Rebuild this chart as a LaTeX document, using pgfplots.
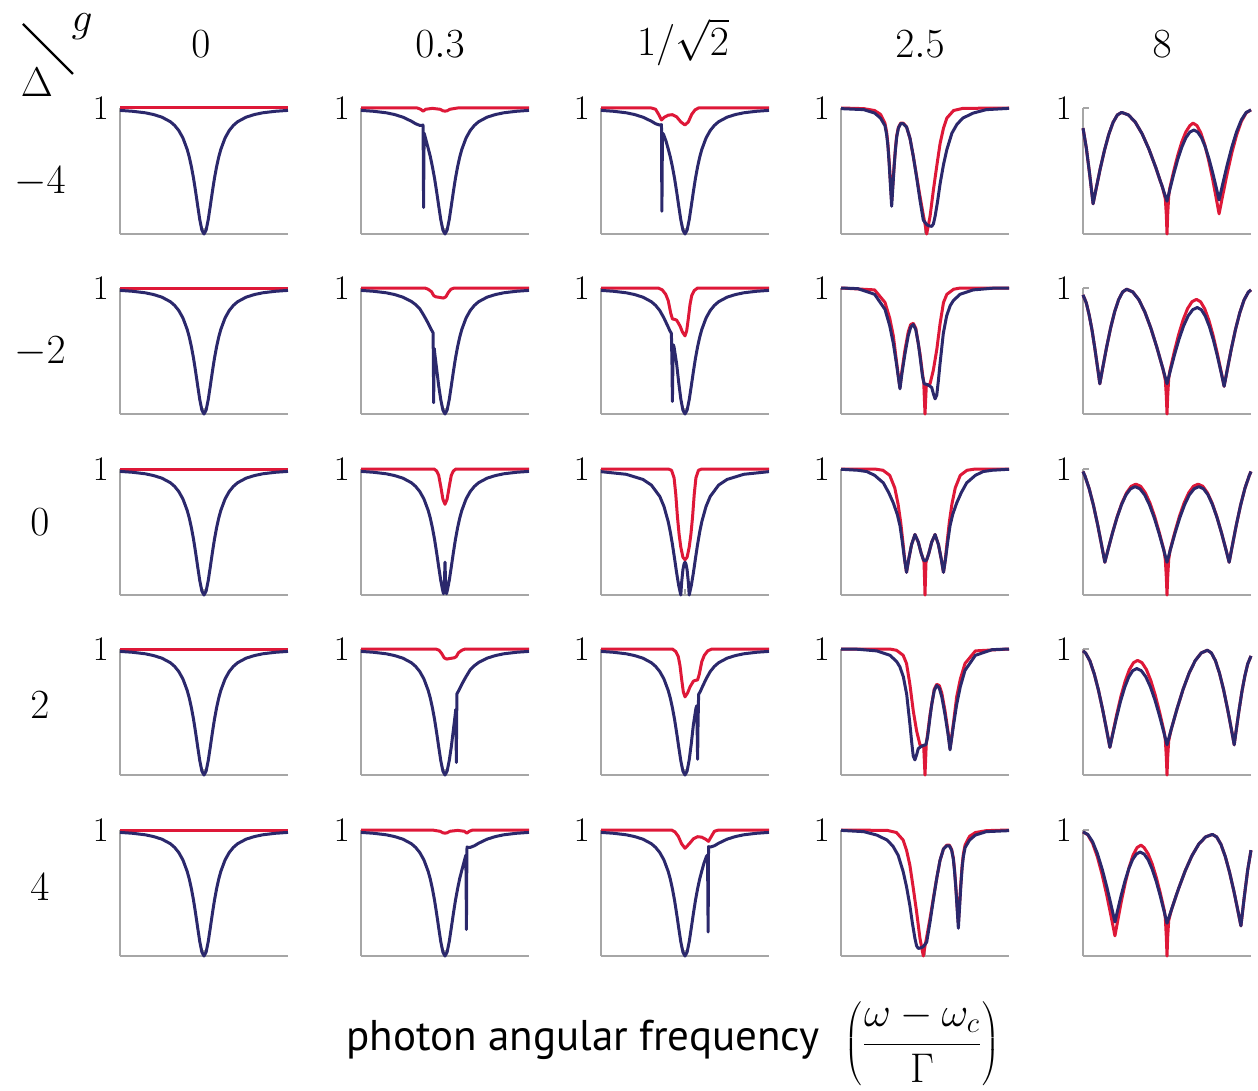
\documentclass[border=0pt]{standalone}
\usepackage{fontspec}
\usepackage{pgfplots}
\usepackage{pgfplotstable}
\pgfplotsset{compat=1.18}
\newfontfamily\labelfont{PT Sans}
\definecolor{navy}{RGB}{43,40,108}
\definecolor{crim}{RGB}{222,24,56}
\pgfplotsset{
 panel/.style={scale only axis, width=84pt, height=63pt, xmin=-10, xmax=10, ymin=0, ymax=1,
  axis lines*=left, axis line style={draw=gray!70, line width=0.6pt},
  xtick={0}, xticklabels={}, ytick={1}, yticklabels={$1$},
  tick style={draw=gray!70, line width=0.6pt}, major tick length=3pt, tick align=inside,
  yticklabel style={font=\fontsize{18}{18}\selectfont, inner sep=1pt, xshift=-4.5pt},
  clip=false, anchor=south west},
 bl/.style={navy, line width=1.5pt, line join=round},
 rd/.style={crim, line width=1.5pt, line join=round},
}
\pgfplotstableread{
x y
-10 0.981
-8.5 0.974
-7 0.962
-6 0.948
-5 0.927
-4 0.891
-3.5 0.862
-3 0.821
-2.5 0.761
-2 0.671
-1.75 0.610
-1.5 0.534
-1.25 0.444
-1 0.338
-0.75 0.223
-0.5 0.113
-0.25 0.031
0 0
0.25 0.031
0.5 0.113
0.75 0.223
1 0.338
1.25 0.444
1.5 0.534
1.75 0.610
2 0.671
2.5 0.761
3 0.821
3.5 0.862
4 0.891
5 0.927
6 0.948
7 0.962
8.5 0.974
10 0.981
}\Bbase
\begin{document}
\begin{tikzpicture}
\path (0,0) rectangle (629pt,-545.5pt);
% headers
\begin{scope}[every node/.style={inner sep=0pt, font=\fontsize{21}{25}\selectfont}]
\node at (100.5pt,-22pt) {$0$};
\node at (220pt,-22pt) {$0.3$};
\node at (341.5pt,-21pt) {$1/\sqrt{2}$};
\node at (460pt,-22pt) {$2.5$};
\node at (581pt,-22pt) {$8$};
% row labels
\node at (20pt,-91pt) {$-4$};
\node at (20pt,-176pt) {$-2$};
\node at (20pt,-261pt) {$0$};
\node at (20pt,-352.5pt) {$2$};
\node at (20pt,-443.5pt) {$4$};
\end{scope}
% corner
\draw[line width=1.1pt] (11.5pt,-12pt) -- (36.5pt,-37pt);
\node[inner sep=0pt, font=\fontsize{22}{25}\selectfont] at (18.5pt,-41pt) {$\Delta$};
\node[inner sep=0pt, font=\fontsize{22}{25}\selectfont] at (41pt,-13.5pt) {$g$};
% x label
\node[anchor=west, inner sep=0pt, font=\labelfont\fontsize{21.5}{25}\selectfont] at (173pt,-520pt) {photon angular frequency};
\node[inner sep=0pt, font=\fontsize{20}{24}\selectfont] at (461pt,-522pt) {$\displaystyle\left(\frac{\omega-\omega_c}{\Gamma}\right)$};

% ================= column 1 (g=0) =================
\begin{axis}[panel, at={(60pt,-117pt)}]
\addplot[rd] coordinates {(-10,1)(10,1)};
\addplot[bl] table {\Bbase};
\end{axis}
\begin{axis}[panel, at={(60pt,-207pt)}]
\addplot[rd] coordinates {(-10,1)(10,1)};
\addplot[bl] table {\Bbase};
\end{axis}
\begin{axis}[panel, at={(60pt,-297.5pt)}]
\addplot[rd] coordinates {(-10,1)(10,1)};
\addplot[bl] table {\Bbase};
\end{axis}
\begin{axis}[panel, at={(60pt,-387.5pt)}]
\addplot[rd] coordinates {(-10,1)(10,1)};
\addplot[bl] table {\Bbase};
\end{axis}
\begin{axis}[panel, at={(60pt,-478pt)}]
\addplot[rd] coordinates {(-10,1)(10,1)};
\addplot[bl] table {\Bbase};
\end{axis}

% ================= column 2 (g=0.3) =================
\begin{axis}[panel, at={(180.5pt,-117pt)}]
\addplot[rd] coordinates {(-10,1)(-3.3,1)(-2.9,0.99)(-2.6,0.975)(-2.3,0.99)(-1.5,0.997)(-0.6,0.99)(-0.25,0.978)(0,0.975)(0.25,0.978)(0.6,0.99)(1.5,1)(10,1)};
\addplot[bl] coordinates {(-10,0.981)(-8.5,0.974)(-7,0.962)(-6,0.948)(-5,0.927)(-4,0.895)(-3.5,0.875)(-3,0.862)(-2.75,0.862)(-2.62,0.865)(-2.58,0.60)(-2.55,0.21)(-2.52,0.55)(-2.48,0.80)(-2.4,0.78)(-2.2,0.73)(-2,0.68)(-1.75,0.615)(-1.5,0.534)(-1.25,0.444)(-1,0.338)(-0.75,0.223)(-0.5,0.113)(-0.25,0.031)(0,0)(0.25,0.031)(0.5,0.113)(0.75,0.223)(1,0.338)(1.25,0.444)(1.5,0.534)(1.75,0.610)(2,0.671)(2.5,0.761)(3,0.821)(3.5,0.862)(4,0.891)(5,0.927)(6,0.948)(7,0.962)(8.5,0.974)(10,0.981)};
\end{axis}
\begin{axis}[panel, at={(180.5pt,-207pt)}]
\addplot[rd] coordinates {(-10,1)(-2.4,1)(-2,0.99)(-1.6,0.97)(-1.35,0.94)(-1.1,0.93)(-0.6,0.925)(-0.2,0.92)(0.1,0.93)(0.4,0.965)(0.7,0.99)(1.1,1)(10,1)};
\addplot[bl] coordinates {(-10,0.981)(-8.5,0.974)(-7,0.962)(-6,0.948)(-5,0.927)(-4,0.893)(-3.5,0.868)(-3,0.835)(-2.5,0.78)(-2,0.72)(-1.75,0.685)(-1.55,0.66)(-1.42,0.645)(-1.38,0.40)(-1.35,0.09)(-1.32,0.35)(-1.28,0.52)(-1.2,0.47)(-1,0.36)(-0.75,0.223)(-0.5,0.113)(-0.25,0.031)(0,0)(0.25,0.031)(0.5,0.113)(0.75,0.223)(1,0.338)(1.25,0.444)(1.5,0.534)(1.75,0.610)(2,0.671)(2.5,0.761)(3,0.821)(3.5,0.862)(4,0.891)(5,0.927)(6,0.948)(7,0.962)(8.5,0.974)(10,0.981)};
\end{axis}
\begin{axis}[panel, at={(180.5pt,-297.5pt)}]
\addplot[rd] coordinates {(-10,1)(-1.3,1)(-1,0.985)(-0.75,0.95)(-0.5,0.86)(-0.25,0.76)(0,0.72)(0.25,0.76)(0.5,0.86)(0.75,0.95)(1,0.985)(1.3,1)(10,1)};
\addplot[bl] coordinates {(-10,0.981)(-8.5,0.974)(-7,0.962)(-6,0.948)(-5,0.927)(-4,0.891)(-3.5,0.862)(-3,0.821)(-2.5,0.761)(-2,0.671)(-1.75,0.610)(-1.5,0.534)(-1.25,0.444)(-1,0.338)(-0.75,0.223)(-0.5,0.113)(-0.3,0.045)(-0.18,0.01)(-0.1,0.04)(-0.05,0.14)(0,0.26)(0.05,0.14)(0.1,0.04)(0.18,0.01)(0.3,0.045)(0.5,0.113)(0.75,0.223)(1,0.338)(1.25,0.444)(1.5,0.534)(1.75,0.610)(2,0.671)(2.5,0.761)(3,0.821)(3.5,0.862)(4,0.891)(5,0.927)(6,0.948)(7,0.962)(8.5,0.974)(10,0.981)};
\end{axis}
\begin{axis}[panel, at={(180.5pt,-387.5pt)}]
\addplot[rd] coordinates {(-10,1)(-1.1,1)(-0.7,0.99)(-0.4,0.965)(-0.1,0.93)(0.2,0.92)(0.6,0.925)(1.1,0.93)(1.35,0.94)(1.6,0.97)(2,0.99)(2.4,1)(10,1)};
\addplot[bl] coordinates {(-10,0.981)(-8.5,0.974)(-7,0.962)(-6,0.948)(-5,0.927)(-4,0.891)(-3.5,0.862)(-3,0.821)(-2.5,0.761)(-2,0.671)(-1.75,0.610)(-1.5,0.534)(-1.25,0.444)(-1,0.338)(-0.75,0.223)(-0.5,0.113)(-0.25,0.031)(0,0)(0.25,0.031)(0.5,0.113)(0.75,0.223)(1,0.36)(1.2,0.47)(1.28,0.52)(1.32,0.35)(1.35,0.10)(1.38,0.40)(1.42,0.645)(1.55,0.66)(1.75,0.685)(2,0.72)(2.5,0.78)(3,0.835)(3.5,0.868)(4,0.893)(5,0.927)(6,0.948)(7,0.962)(8.5,0.974)(10,0.981)};
\end{axis}
\begin{axis}[panel, at={(180.5pt,-478pt)}]
\addplot[rd] coordinates {(-10,1)(-1.5,1)(-0.6,0.99)(-0.25,0.978)(0,0.975)(0.25,0.978)(0.6,0.99)(1.5,0.997)(2.3,0.99)(2.6,0.975)(2.9,0.99)(3.3,1)(10,1)};
\addplot[bl] coordinates {(-10,0.981)(-8.5,0.974)(-7,0.962)(-6,0.948)(-5,0.927)(-4,0.891)(-3.5,0.862)(-3,0.821)(-2.5,0.761)(-2,0.671)(-1.75,0.610)(-1.5,0.534)(-1.25,0.444)(-1,0.338)(-0.75,0.223)(-0.5,0.113)(-0.25,0.031)(0,0)(0.25,0.031)(0.5,0.113)(0.75,0.223)(1,0.338)(1.25,0.444)(1.5,0.534)(1.75,0.615)(2,0.68)(2.2,0.73)(2.4,0.78)(2.48,0.80)(2.52,0.55)(2.55,0.21)(2.58,0.60)(2.62,0.865)(2.75,0.862)(3,0.862)(3.5,0.875)(4,0.895)(5,0.927)(6,0.948)(7,0.962)(8.5,0.974)(10,0.981)};
\end{axis}

% ================= column 3 (g=1/sqrt2) =================
\begin{axis}[panel, at={(300.5pt,-117pt)}]
\addplot[rd] coordinates {(-10,1)(-4,1)(-3.5,0.99)(-3.1,0.945)(-2.8,0.905)(-2.5,0.925)(-2,0.943)(-1.5,0.947)(-1,0.93)(-0.5,0.89)(0,0.865)(0.4,0.89)(0.8,0.95)(1.2,0.985)(1.6,1)(10,1)};
\addplot[bl] coordinates {(-10,0.981)(-8.5,0.974)(-7,0.962)(-6,0.948)(-5,0.927)(-4,0.895)(-3.5,0.875)(-3.1,0.866)(-2.9,0.866)(-2.8,0.868)(-2.78,0.55)(-2.75,0.18)(-2.72,0.50)(-2.68,0.80)(-2.55,0.79)(-2.25,0.735)(-2,0.675)(-1.75,0.612)(-1.5,0.534)(-1.25,0.444)(-1,0.338)(-0.75,0.223)(-0.5,0.113)(-0.25,0.031)(0,0)(0.25,0.031)(0.5,0.113)(0.75,0.223)(1,0.338)(1.25,0.444)(1.5,0.534)(1.75,0.610)(2,0.671)(2.5,0.761)(3,0.821)(3.5,0.862)(4,0.891)(5,0.927)(6,0.948)(7,0.962)(8.5,0.974)(10,0.981)};
\end{axis}
\begin{axis}[panel, at={(300.5pt,-207pt)}]
\addplot[rd] coordinates {(-10,1)(-3.2,1)(-2.7,0.985)(-2.3,0.95)(-2,0.90)(-1.7,0.80)(-1.5,0.755)(-1.2,0.75)(-1,0.745)(-0.6,0.70)(-0.3,0.65)(0,0.62)(0.2,0.66)(0.4,0.76)(0.6,0.87)(0.8,0.94)(1.1,0.98)(1.5,1)(10,1)};
\addplot[bl] coordinates {(-10,0.981)(-8.5,0.974)(-7,0.962)(-6,0.948)(-5,0.927)(-4,0.891)(-3.5,0.862)(-3,0.821)(-2.5,0.761)(-2,0.69)(-1.8,0.66)(-1.62,0.64)(-1.55,0.40)(-1.5,0.10)(-1.45,0.35)(-1.4,0.55)(-1.3,0.53)(-1,0.40)(-0.75,0.25)(-0.5,0.12)(-0.25,0.031)(0,0)(0.25,0.031)(0.5,0.113)(0.75,0.223)(1,0.338)(1.25,0.444)(1.5,0.534)(1.75,0.610)(2,0.671)(2.5,0.761)(3,0.821)(3.5,0.862)(4,0.891)(5,0.927)(6,0.948)(7,0.962)(8.5,0.974)(10,0.981)};
\end{axis}
\begin{axis}[panel, at={(300.5pt,-297.5pt)}]
\addplot[rd] coordinates {(-10,1)(-2,1)(-1.6,0.99)(-1.3,0.93)(-1.1,0.80)(-0.9,0.62)(-0.7,0.48)(-0.5,0.38)(-0.25,0.30)(0,0.28)(0.25,0.30)(0.5,0.38)(0.7,0.48)(0.9,0.62)(1.1,0.80)(1.3,0.93)(1.6,0.99)(2,1)(10,1)};
\addplot[bl] coordinates {(-10,0.979)(-7,0.958)(-5,0.917)(-4,0.872)(-3,0.782)(-2.5,0.702)(-2,0.582)(-1.75,0.50)(-1.5,0.403)(-1.25,0.292)(-1,0.177)(-0.75,0.075)(-0.5,0)(-0.4,0.10)(-0.25,0.20)(-0.1,0.25)(0,0.26)(0.1,0.25)(0.25,0.20)(0.4,0.10)(0.5,0)(0.75,0.075)(1,0.177)(1.25,0.292)(1.5,0.403)(1.75,0.50)(2,0.582)(2.5,0.702)(3,0.782)(4,0.872)(5,0.917)(7,0.958)(10,0.979)};
\end{axis}
\begin{axis}[panel, at={(300.5pt,-387.5pt)}]
\addplot[rd] coordinates {(-10,1)(-1.5,1)(-1.1,0.98)(-0.8,0.94)(-0.6,0.87)(-0.4,0.76)(-0.2,0.66)(0,0.62)(0.3,0.65)(0.6,0.70)(1,0.745)(1.2,0.75)(1.5,0.755)(1.7,0.80)(2,0.90)(2.3,0.95)(2.7,0.985)(3.2,1)(10,1)};
\addplot[bl] coordinates {(-10,0.981)(-8.5,0.974)(-7,0.962)(-6,0.948)(-5,0.927)(-4,0.891)(-3.5,0.862)(-3,0.821)(-2.5,0.761)(-2,0.671)(-1.75,0.610)(-1.5,0.534)(-1.25,0.444)(-1,0.338)(-0.75,0.223)(-0.5,0.113)(-0.25,0.031)(0,0)(0.25,0.031)(0.5,0.12)(0.75,0.25)(1,0.40)(1.3,0.53)(1.4,0.55)(1.45,0.35)(1.5,0.125)(1.55,0.40)(1.62,0.64)(1.8,0.66)(2,0.69)(2.5,0.761)(3,0.821)(3.5,0.862)(4,0.891)(5,0.927)(6,0.948)(7,0.962)(8.5,0.974)(10,0.981)};
\end{axis}
\begin{axis}[panel, at={(300.5pt,-478pt)}]
\addplot[rd] coordinates {(-10,1)(-1.6,1)(-1.2,0.985)(-0.8,0.95)(-0.4,0.89)(0,0.855)(0.5,0.89)(1,0.93)(1.5,0.947)(2,0.943)(2.5,0.925)(2.8,0.91)(3.1,0.945)(3.5,0.99)(4,1)(10,1)};
\addplot[bl] coordinates {(-10,0.981)(-8.5,0.974)(-7,0.962)(-6,0.948)(-5,0.927)(-4,0.891)(-3.5,0.862)(-3,0.821)(-2.5,0.761)(-2,0.671)(-1.75,0.610)(-1.5,0.534)(-1.25,0.444)(-1,0.338)(-0.75,0.223)(-0.5,0.113)(-0.25,0.031)(0,0)(0.25,0.031)(0.5,0.113)(0.75,0.223)(1,0.338)(1.25,0.444)(1.5,0.534)(1.75,0.612)(2,0.675)(2.25,0.735)(2.55,0.79)(2.68,0.80)(2.72,0.50)(2.75,0.19)(2.78,0.55)(2.8,0.868)(2.9,0.866)(3.1,0.866)(3.5,0.875)(4,0.895)(5,0.927)(6,0.948)(7,0.962)(8.5,0.974)(10,0.981)};
\end{axis}

% ================= column 4 (g=2.5) =================
\begin{axis}[panel, at={(420.5pt,-117pt)}]
\addplot[rd] coordinates {(-10,1)(-7.3,0.995)(-6,0.98)(-5.3,0.95)(-4.77,0.88)(-4.57,0.81)(-4.42,0.72)(-4.27,0.58)(-4.12,0.42)(-3.97,0.26)(-3.82,0.40)(-3.67,0.55)(-3.52,0.68)(-3.37,0.78)(-3.17,0.845)(-2.9,0.88)(-2.6,0.88)(-2.2,0.85)(-1.79,0.76)(-1.39,0.615)(-1,0.46)(-0.6,0.30)(-0.2,0.15)(0,0.08)(0.2,0)(0.6,0.14)(1,0.35)(1.4,0.54)(1.8,0.72)(2.2,0.84)(2.6,0.92)(3.4,0.98)(4.5,0.997)(10,1)};
\addplot[bl] coordinates {(-10,0.995)(-7.3,0.987)(-6,0.96)(-5.3,0.92)(-4.77,0.86)(-4.57,0.79)(-4.42,0.70)(-4.27,0.56)(-4.12,0.39)(-3.97,0.22)(-3.82,0.38)(-3.67,0.54)(-3.52,0.67)(-3.37,0.77)(-3.17,0.84)(-2.9,0.875)(-2.6,0.875)(-2.2,0.85)(-1.79,0.76)(-1.39,0.615)(-1,0.45)(-0.6,0.27)(-0.2,0.11)(0.2,0.075)(0.5,0.065)(0.8,0.06)(1,0.08)(1.2,0.14)(1.5,0.26)(1.8,0.40)(2.2,0.55)(2.6,0.67)(3.2,0.80)(3.8,0.87)(4.5,0.92)(5.75,0.96)(7.3,0.987)(10,0.997)};
\end{axis}
\begin{axis}[panel, at={(420.5pt,-207pt)}]
\addplot[rd] coordinates {(-10,1)(-6,0.985)(-4.76,0.885)(-4.2,0.76)(-3.77,0.62)(-3.4,0.42)(-3.15,0.29)(-2.98,0.21)(-2.75,0.34)(-2.38,0.51)(-2,0.65)(-1.7,0.71)(-1.39,0.72)(-1.1,0.68)(-0.8,0.56)(-0.6,0.48)(-0.3,0.32)(-0.15,0.25)(0,0)(0.15,0.22)(0.6,0.24)(1,0.35)(1.4,0.51)(1.8,0.72)(2.2,0.885)(2.6,0.95)(3.4,0.99)(4.2,1)(10,1)};
\addplot[bl] coordinates {(-10,1)(-8,0.995)(-6,0.95)(-4.76,0.83)(-4.2,0.70)(-3.77,0.56)(-3.4,0.40)(-3.15,0.28)(-2.98,0.20)(-2.75,0.32)(-2.38,0.48)(-2,0.62)(-1.7,0.69)(-1.39,0.71)(-1.1,0.67)(-0.8,0.56)(-0.6,0.46)(-0.3,0.30)(-0.1,0.24)(0.2,0.235)(0.5,0.225)(0.8,0.21)(1,0.16)(1.2,0.12)(1.4,0.15)(1.6,0.27)(1.79,0.40)(2.18,0.64)(2.58,0.78)(3,0.86)(3.37,0.90)(4.17,0.95)(5.75,0.985)(8,0.998)(10,1)};
\end{axis}
\begin{axis}[panel, at={(420.5pt,-297.5pt)}]
\addplot[rd] coordinates {(-10,1)(-6,1)(-5,0.99)(-4.2,0.95)(-3.6,0.85)(-3.2,0.72)(-2.9,0.58)(-2.6,0.40)(-2.4,0.27)(-2.2,0.18)(-1.95,0.28)(-1.6,0.40)(-1.2,0.48)(-0.8,0.42)(-0.45,0.33)(-0.2,0.28)(-0.12,0.26)(-0.05,0.12)(0,0)(0.05,0.12)(0.12,0.26)(0.2,0.28)(0.45,0.33)(0.8,0.42)(1.2,0.48)(1.6,0.40)(1.95,0.28)(2.2,0.18)(2.4,0.27)(2.6,0.40)(2.9,0.58)(3.2,0.72)(3.6,0.85)(4.2,0.95)(5,0.99)(6,1)(10,1)};
\addplot[bl] coordinates {(-10,0.998)(-8,0.99)(-6.94,0.98)(-6,0.95)(-4.96,0.89)(-4.3,0.81)(-3.77,0.73)(-3.3,0.64)(-2.98,0.55)(-2.7,0.42)(-2.45,0.29)(-2.2,0.18)(-1.95,0.28)(-1.6,0.40)(-1.2,0.48)(-0.8,0.42)(-0.45,0.33)(-0.2,0.28)(0,0.27)(0.2,0.28)(0.45,0.33)(0.8,0.42)(1.2,0.48)(1.6,0.40)(1.95,0.28)(2.2,0.18)(2.45,0.29)(2.7,0.42)(2.98,0.55)(3.3,0.64)(3.77,0.73)(4.3,0.81)(4.96,0.89)(6,0.95)(6.94,0.98)(8,0.99)(10,0.998)};
\end{axis}
\begin{axis}[panel, at={(420.5pt,-387.5pt)}]
\addplot[rd] coordinates {(-10,1)(-4.2,1)(-3.4,0.99)(-2.6,0.95)(-2.2,0.885)(-1.8,0.72)(-1.4,0.51)(-1,0.35)(-0.6,0.24)(-0.15,0.22)(0,0)(0.15,0.25)(0.3,0.32)(0.6,0.48)(0.8,0.56)(1.1,0.68)(1.39,0.72)(1.7,0.71)(2,0.65)(2.38,0.51)(2.75,0.34)(2.98,0.21)(3.15,0.29)(3.4,0.42)(3.77,0.62)(4.2,0.76)(4.76,0.885)(6,0.985)(10,1)};
\addplot[bl] coordinates {(-10,1)(-8,0.998)(-5.75,0.985)(-4.17,0.95)(-3.37,0.90)(-3,0.86)(-2.58,0.78)(-2.18,0.64)(-1.79,0.40)(-1.6,0.27)(-1.4,0.15)(-1.2,0.12)(-1,0.16)(-0.8,0.21)(-0.5,0.225)(-0.2,0.235)(0.1,0.24)(0.3,0.30)(0.6,0.46)(0.8,0.56)(1.1,0.67)(1.39,0.71)(1.7,0.69)(2,0.62)(2.38,0.48)(2.75,0.32)(2.98,0.20)(3.15,0.28)(3.4,0.40)(3.77,0.56)(4.2,0.70)(4.76,0.83)(6,0.95)(8,0.995)(10,1)};
\end{axis}
\begin{axis}[panel, at={(420.5pt,-478pt)}]
\addplot[rd] coordinates {(-10,1)(-4.5,0.997)(-3.4,0.98)(-2.6,0.92)(-2.2,0.84)(-1.8,0.72)(-1.4,0.54)(-1,0.35)(-0.6,0.14)(-0.2,0)(0,0.08)(0.2,0.15)(0.6,0.30)(1,0.46)(1.39,0.615)(1.79,0.76)(2.2,0.85)(2.6,0.88)(2.9,0.88)(3.17,0.845)(3.37,0.78)(3.52,0.68)(3.67,0.55)(3.82,0.40)(3.97,0.26)(4.12,0.42)(4.27,0.58)(4.42,0.72)(4.57,0.81)(4.77,0.88)(5.3,0.95)(6,0.98)(7.3,0.995)(10,1)};
\addplot[bl] coordinates {(-10,0.997)(-7.3,0.987)(-5.75,0.96)(-4.5,0.92)(-3.8,0.87)(-3.2,0.80)(-2.6,0.67)(-2.2,0.55)(-1.8,0.40)(-1.5,0.26)(-1.2,0.14)(-1,0.08)(-0.8,0.06)(-0.5,0.065)(-0.2,0.075)(0.2,0.11)(0.6,0.27)(1,0.45)(1.39,0.615)(1.79,0.76)(2.2,0.85)(2.6,0.875)(2.9,0.875)(3.17,0.84)(3.37,0.77)(3.52,0.67)(3.67,0.54)(3.82,0.38)(3.97,0.22)(4.12,0.39)(4.27,0.56)(4.42,0.70)(4.57,0.79)(4.77,0.86)(5.3,0.92)(6,0.96)(7.3,0.987)(10,0.995)};
\end{axis}

% ================= column 5 (g=8) =================
\begin{axis}[panel, at={(541.5pt,-117pt)}]
\addplot[rd] coordinates {(-10,0.84)(-9.6,0.68)(-9.2,0.47)(-8.8,0.24)(-8.46,0.353)(-7.95,0.518)(-7.44,0.666)(-6.93,0.791)(-6.42,0.886)(-5.91,0.945)(-5.4,0.965)(-4.59,0.945)(-3.78,0.888)(-2.97,0.796)(-2.16,0.675)(-1.35,0.530)(-0.54,0.370)(-0.2,0.28)(-0.08,0.15)(0,0)(0.08,0.15)(0.2,0.30)(0.32,0.36)(0.8,0.50)(1.28,0.625)(1.76,0.73)(2.24,0.81)(2.72,0.86)(3.1,0.88)(3.57,0.86)(4.03,0.802)(4.5,0.707)(4.96,0.583)(5.43,0.436)(5.89,0.272)(6.2,0.16)(6.58,0.289)(7.15,0.476)(7.72,0.645)(8.29,0.787)(8.86,0.895)(9.43,0.962)(10,0.985)};
\addplot[bl] coordinates {(-10,0.84)(-9.6,0.68)(-9.2,0.47)(-8.8,0.24)(-8.46,0.353)(-7.95,0.518)(-7.44,0.666)(-6.93,0.791)(-6.42,0.886)(-5.91,0.945)(-5.4,0.965)(-4.59,0.945)(-3.78,0.888)(-2.97,0.796)(-2.16,0.675)(-1.35,0.530)(-0.54,0.370)(0,0.26)(0.32,0.348)(0.8,0.476)(1.28,0.592)(1.76,0.689)(2.24,0.763)(2.72,0.809)(3.2,0.825)(3.65,0.809)(4.1,0.765)(4.55,0.692)(5,0.596)(5.45,0.483)(5.9,0.357)(6.2,0.27)(6.58,0.382)(7.15,0.544)(7.72,0.690)(8.29,0.813)(8.86,0.907)(9.43,0.965)(10,0.985)};
\end{axis}
\begin{axis}[panel, at={(541.5pt,-207pt)}]
\addplot[rd] coordinates {(-10,0.945)(-9.61,0.882)(-9.27,0.787)(-8.92,0.663)(-8.58,0.516)(-8.23,0.352)(-8,0.24)(-7.68,0.357)(-7.2,0.527)(-6.72,0.681)(-6.24,0.81)(-5.76,0.908)(-5.28,0.969)(-4.8,0.99)(-4.08,0.969)(-3.36,0.908)(-2.64,0.81)(-1.92,0.681)(-1.2,0.527)(-0.48,0.357)(-0.2,0.27)(-0.08,0.14)(0,0)(0.08,0.14)(0.2,0.28)(0.35,0.345)(0.875,0.497)(1.4,0.634)(1.925,0.749)(2.45,0.837)(2.975,0.891)(3.5,0.91)(3.995,0.891)(4.49,0.835)(4.985,0.744)(5.48,0.626)(5.975,0.484)(6.47,0.328)(6.8,0.22)(7.14,0.34)(7.65,0.515)(8.16,0.673)(8.67,0.805)(9.18,0.906)(9.69,0.968)(10,0.985)};
\addplot[bl] coordinates {(-10,0.945)(-9.61,0.882)(-9.27,0.787)(-8.92,0.663)(-8.58,0.516)(-8.23,0.352)(-8,0.24)(-7.68,0.357)(-7.2,0.527)(-6.72,0.681)(-6.24,0.81)(-5.76,0.908)(-5.28,0.969)(-4.8,0.99)(-4.08,0.969)(-3.36,0.908)(-2.64,0.81)(-1.92,0.681)(-1.2,0.527)(-0.48,0.357)(0,0.24)(0.36,0.334)(0.9,0.472)(1.44,0.596)(1.98,0.700)(2.52,0.779)(3.06,0.828)(3.6,0.845)(4.08,0.828)(4.56,0.777)(5.04,0.695)(5.52,0.588)(6,0.459)(6.48,0.318)(6.8,0.22)(7.14,0.34)(7.65,0.515)(8.16,0.673)(8.67,0.805)(9.18,0.906)(9.69,0.968)(10,0.985)};
\end{axis}
\begin{axis}[panel, at={(541.5pt,-297.5pt)}]
\addplot[rd] coordinates {(-10,0.98)(-9.78,0.946)(-9.27,0.845)(-8.76,0.713)(-8.25,0.555)(-7.74,0.38)(-7.4,0.26)(-7.03,0.357)(-6.475,0.497)(-5.92,0.625)(-5.365,0.731)(-4.81,0.812)(-4.255,0.863)(-3.7,0.88)(-3.145,0.863)(-2.59,0.812)(-2.035,0.731)(-1.48,0.625)(-0.925,0.497)(-0.37,0.357)(-0.2,0.28)(-0.08,0.14)(0,0)(0.08,0.14)(0.2,0.28)(0.37,0.357)(0.925,0.497)(1.48,0.625)(2.035,0.731)(2.59,0.812)(3.145,0.863)(3.7,0.88)(4.255,0.863)(4.81,0.812)(5.365,0.731)(5.92,0.625)(6.475,0.497)(7.03,0.357)(7.4,0.26)(7.74,0.38)(8.25,0.555)(8.76,0.713)(9.27,0.845)(9.78,0.946)(10,0.98)};
\addplot[bl] coordinates {(-10,0.98)(-9.78,0.946)(-9.27,0.845)(-8.76,0.713)(-8.25,0.555)(-7.74,0.38)(-7.4,0.26)(-7.04,0.354)(-6.5,0.490)(-5.96,0.613)(-5.42,0.716)(-4.88,0.795)(-4.34,0.843)(-3.8,0.86)(-3.23,0.843)(-2.66,0.795)(-2.09,0.716)(-1.52,0.613)(-0.95,0.490)(-0.38,0.354)(0,0.26)(0.38,0.354)(0.95,0.490)(1.52,0.613)(2.09,0.716)(2.66,0.795)(3.23,0.843)(3.8,0.86)(4.34,0.843)(4.88,0.795)(5.42,0.716)(5.96,0.613)(6.5,0.490)(7.04,0.354)(7.4,0.26)(7.74,0.38)(8.25,0.555)(8.76,0.713)(9.27,0.845)(9.78,0.946)(10,0.98)};
\end{axis}
\begin{axis}[panel, at={(541.5pt,-387.5pt)}]
\addplot[rd] coordinates {(-10,0.985)(-9.69,0.968)(-9.18,0.906)(-8.67,0.805)(-8.16,0.673)(-7.65,0.515)(-7.14,0.34)(-6.8,0.22)(-6.47,0.328)(-5.975,0.484)(-5.48,0.626)(-4.985,0.744)(-4.49,0.835)(-3.995,0.891)(-3.5,0.91)(-2.975,0.891)(-2.45,0.837)(-1.925,0.749)(-1.4,0.634)(-0.875,0.497)(-0.35,0.345)(-0.2,0.28)(-0.08,0.14)(0,0)(0.08,0.14)(0.2,0.27)(0.48,0.357)(1.2,0.527)(1.92,0.681)(2.64,0.81)(3.36,0.908)(4.08,0.969)(4.8,0.99)(5.28,0.969)(5.76,0.908)(6.24,0.81)(6.72,0.681)(7.2,0.527)(7.68,0.357)(8,0.24)(8.23,0.352)(8.58,0.516)(8.92,0.663)(9.27,0.787)(9.61,0.882)(10,0.945)};
\addplot[bl] coordinates {(-10,0.985)(-9.69,0.968)(-9.18,0.906)(-8.67,0.805)(-8.16,0.673)(-7.65,0.515)(-7.14,0.34)(-6.8,0.22)(-6.48,0.318)(-6,0.459)(-5.52,0.588)(-5.04,0.695)(-4.56,0.777)(-4.08,0.828)(-3.6,0.845)(-3.06,0.828)(-2.52,0.779)(-1.98,0.700)(-1.44,0.596)(-0.9,0.472)(-0.36,0.334)(0,0.24)(0.48,0.357)(1.2,0.527)(1.92,0.681)(2.64,0.81)(3.36,0.908)(4.08,0.969)(4.8,0.99)(5.28,0.969)(5.76,0.908)(6.24,0.81)(6.72,0.681)(7.2,0.527)(7.68,0.357)(8,0.24)(8.23,0.352)(8.58,0.516)(8.92,0.663)(9.27,0.787)(9.61,0.882)(10,0.945)};
\end{axis}
\begin{axis}[panel, at={(541.5pt,-478pt)}]
\addplot[rd] coordinates {(-10,0.985)(-9.43,0.962)(-8.86,0.895)(-8.29,0.787)(-7.72,0.645)(-7.15,0.476)(-6.58,0.289)(-6.2,0.16)(-5.89,0.272)(-5.43,0.436)(-4.96,0.583)(-4.5,0.707)(-4.03,0.802)(-3.57,0.86)(-3.1,0.88)(-2.72,0.86)(-2.24,0.81)(-1.76,0.73)(-1.28,0.625)(-0.8,0.50)(-0.32,0.36)(-0.2,0.30)(-0.08,0.15)(0,0)(0.08,0.15)(0.2,0.28)(0.54,0.37)(1.35,0.53)(2.16,0.675)(2.97,0.796)(3.78,0.888)(4.59,0.945)(5.4,0.965)(5.91,0.945)(6.42,0.886)(6.93,0.791)(7.44,0.666)(7.95,0.518)(8.46,0.353)(8.8,0.24)(9.2,0.47)(9.6,0.68)(10,0.84)};
\addplot[bl] coordinates {(-10,0.985)(-9.43,0.965)(-8.86,0.907)(-8.29,0.813)(-7.72,0.690)(-7.15,0.544)(-6.58,0.382)(-6.2,0.27)(-5.9,0.357)(-5.45,0.483)(-5,0.596)(-4.55,0.692)(-4.1,0.765)(-3.65,0.809)(-3.2,0.825)(-2.72,0.809)(-2.24,0.763)(-1.76,0.689)(-1.28,0.592)(-0.8,0.476)(-0.32,0.348)(0,0.26)(0.54,0.37)(1.35,0.53)(2.16,0.675)(2.97,0.796)(3.78,0.888)(4.59,0.945)(5.4,0.965)(5.91,0.945)(6.42,0.886)(6.93,0.791)(7.44,0.666)(7.95,0.518)(8.46,0.353)(8.8,0.24)(9.2,0.47)(9.6,0.68)(10,0.84)};
\end{axis}
\end{tikzpicture}
\end{document}
